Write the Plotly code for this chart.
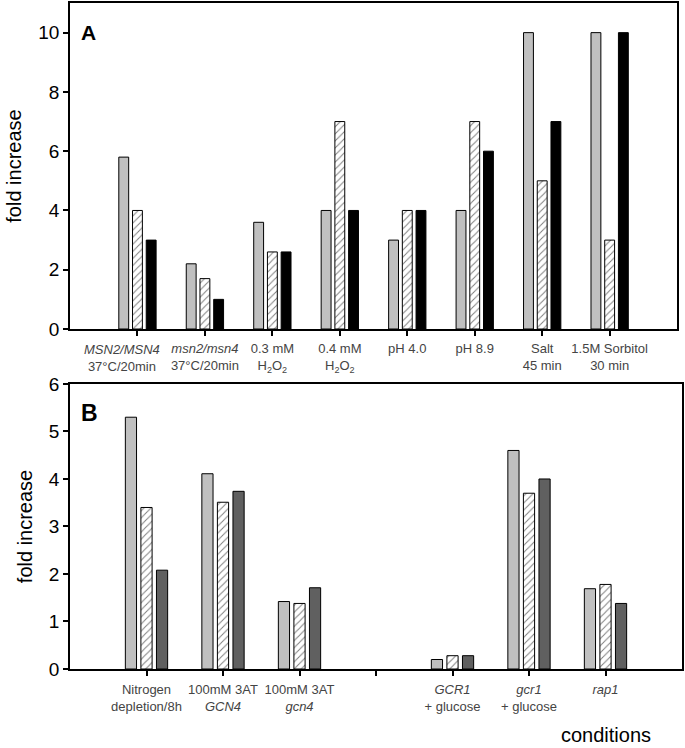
import plotly.graph_objects as go

# Panel A - stress conditions
cond_a = ['<i>MSN2/MSN4</i><br>37°C/20min', '<i>msn2/msn4</i><br>37°C/20min',
          '0.3 mM<br>H<sub>2</sub>O<sub>2</sub>', '0.4 mM<br>H<sub>2</sub>O<sub>2</sub>',
          'pH 4.0', 'pH 8.9', 'Salt<br>45 min', '1.5M Sorbitol<br>30 min']
gray_a = [5.8, 2.2, 3.6, 4.0, 3.0, 4.0, 10.0, 10.0]
hatch_a = [4.0, 1.7, 2.6, 7.0, 4.0, 7.0, 5.0, 3.0]
black_a = [3.0, 1.0, 2.6, 4.0, 4.0, 6.0, 7.0, 10.0]

# Panel B - nutrient conditions (4th slot is an empty gap)
cond_b = ['Nitrogen<br>depletion/8h', '100mM 3AT<br><i>GCN4</i>', '100mM 3AT<br><i>gcn4</i>', ' ',
          '<i>GCR1</i><br>+ glucose', '<i>gcr1</i><br>+ glucose', '<i>rap1</i>']
gray_b = [5.3, 4.11, 1.42, None, 0.2, 4.6, 1.69]
hatch_b = [3.4, 3.51, 1.38, None, 0.28, 3.7, 1.78]
dark_b = [2.08, 3.74, 1.71, None, 0.28, 4.0, 1.38]

pos_a = list(range(1, len(cond_a) + 1))
pos_b = list(range(1, len(cond_b) + 1))

font = 'Arial, Liberation Sans, sans-serif'
line = dict(color='black', width=1)

fig = go.Figure()

def add_group(x, vals, xa, ya, third_color):
    fig.add_trace(go.Bar(x=x, y=vals[0], xaxis=xa, yaxis=ya,
                         marker=dict(color='#c0c0c0', line=line)))
    fig.add_trace(go.Bar(x=x, y=vals[1], xaxis=xa, yaxis=ya,
                         marker=dict(color='white', line=line,
                                     pattern=dict(shape='/', fgcolor='black', bgcolor='white',
                                                  size=5, solidity=0.2))))
    fig.add_trace(go.Bar(x=x, y=vals[2], xaxis=xa, yaxis=ya,
                         marker=dict(color=third_color, line=line)))

add_group(pos_a, [gray_a, hatch_a, black_a], 'x', 'y', 'black')
add_group(pos_b, [gray_b, hatch_b, dark_b], 'x2', 'y2', '#606060')

axis_common = dict(showline=True, linecolor='black', linewidth=1.5, mirror=True,
                   ticks='outside', ticklen=5, tickcolor='black', tickwidth=1.5,
                   showgrid=False, zeroline=False, automargin=False)

tick_font = dict(size=13, color='#444')

fig.update_layout(
    width=685, height=748,
    margin=dict(l=70, r=3, t=3, b=79),
    plot_bgcolor='white', paper_bgcolor='white',
    showlegend=False,
    barmode='group', bargap=0.39, bargroupgap=0.28,
    font=dict(family=font, color='black'),
    # first label of panel A is drawn as an annotation (sits left of its tick)
    xaxis=dict(domain=[0, 0.992], anchor='y', range=[0, 9], tickangle=0,
               tickmode='array', tickvals=pos_a, ticktext=[' '] + cond_a[1:], ticklabelstandoff=2,
               tickfont=tick_font, **axis_common),
    yaxis=dict(domain=[0.5105, 1], anchor='x', range=[0, 11],
               tickvals=[0, 2, 4, 6, 8, 10], tickfont=dict(size=19),
               title=dict(text='fold increase', font=dict(size=20), standoff=11),
               **axis_common),
    xaxis2=dict(domain=[0, 1], anchor='y2', range=[0, 8], tickangle=0,
                tickmode='array', tickvals=pos_b, ticktext=cond_b, ticklabelstandoff=3,
                tickfont=tick_font, **axis_common),
    yaxis2=dict(domain=[0, 0.428], anchor='x2', range=[0, 6],
                tickvals=[0, 1, 2, 3, 4, 5, 6], tickfont=dict(size=19),
                title=dict(text='fold increase', font=dict(size=20), standoff=11),
                **axis_common),
)

fig.add_annotation(text=cond_a[0], x=pos_a[0], xref='x', y=0, yref='y domain',
                   xshift=-15, yshift=-11, xanchor='center', yanchor='top',
                   showarrow=False, font=tick_font)

fig.add_annotation(text='<b>A</b>', x=0.031, y=0.955, xref='paper', yref='paper',
                   showarrow=False, font=dict(size=21), xanchor='center', yanchor='middle')
fig.add_annotation(text='<b>B</b>', x=0.032, y=0.384, xref='paper', yref='paper',
                   showarrow=False, font=dict(size=23), xanchor='center', yanchor='middle')
fig.add_annotation(text='conditions', x=0.876, y=-0.099, xref='paper', yref='paper',
                   showarrow=False, font=dict(size=20), xanchor='center', yanchor='middle')

fig.write_html("out.html", config={'displayModeBar': False},
               post_script="document.body.style.margin='0';")
